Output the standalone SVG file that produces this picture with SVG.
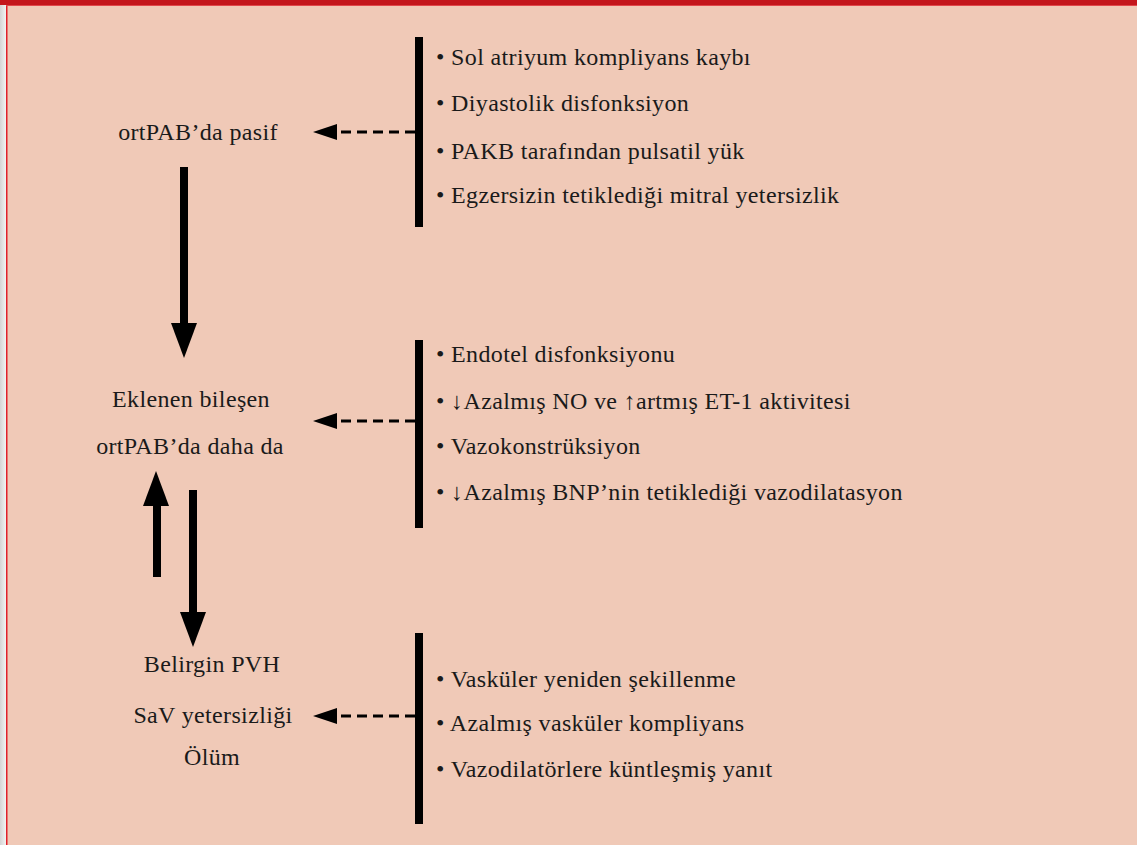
<svg xmlns="http://www.w3.org/2000/svg" width="1137" height="845" viewBox="0 0 1137 845">
<defs>
<linearGradient id="edge" x1="0" y1="0" x2="1" y2="0">
<stop offset="0" stop-color="#d4d4d4"/>
<stop offset="1" stop-color="#f2f2f2"/>
</linearGradient>
</defs>
<style>
.t{font-family:"Liberation Serif","DejaVu Serif",serif;font-size:24px;letter-spacing:0.35px;fill:#1a1a1a}
.c{text-anchor:middle}
.bar{fill:#000}
.dash{stroke:#000;stroke-width:3;stroke-dasharray:10 6;fill:none}
</style>
<rect x="0" y="0" width="1137" height="845" fill="#F0C9B7"/>
<rect x="0" y="0" width="6" height="845" fill="url(#edge)"/>
<rect x="6" y="0" width="1.5" height="845" fill="#E0202A"/>
<rect x="0" y="0" width="1137" height="5" fill="#C4161C"/>
<rect x="6" y="5" width="1131" height="1" fill="#E2474B"/>

<g id="connectors">
<path class="dash" d="M415 132 H338"/>
<polygon points="313,132 337,124 337,140" fill="#000"/>
<path class="dash" d="M415 421 H338"/>
<polygon points="313,421 337,413 337,429" fill="#000"/>
<path class="dash" d="M415 716 H338"/>
<polygon points="313,716 337,708 337,724" fill="#000"/>
<rect x="180" y="167" width="8" height="157" fill="#000"/>
<polygon points="171,323 197,323 184,358" fill="#000"/>
<rect x="153" y="505" width="8" height="72" fill="#000"/>
<polygon points="143,506 169,506 156,471" fill="#000"/>
<rect x="189" y="490" width="8" height="123" fill="#000"/>
<polygon points="180,612 206,612 193,647" fill="#000"/>
</g>

<g id="node-pasif">
<text class="t c" x="198" y="140">ortPAB’da pasif</text>
</g>
<g id="node-eklenen">
<text class="t c" x="191" y="407">Eklenen bileşen</text>
<text class="t c" x="190" y="454">ortPAB’da daha da</text>
</g>
<g id="node-olum">
<text class="t c" x="212" y="672">Belirgin PVH</text>
<text class="t c" x="213" y="723">SaV yetersizliği</text>
<text class="t c" x="212" y="765">Ölüm</text>
</g>

<g id="list-1">
<rect class="bar" x="415" y="37" width="8" height="190"/>
<text class="t" x="436" y="65">• Sol atriyum kompliyans kaybı</text>
<text class="t" x="436" y="111">• Diyastolik disfonksiyon</text>
<text class="t" x="436" y="159">• PAKB tarafından pulsatil yük</text>
<text class="t" x="436" y="203">• Egzersizin tetiklediği mitral yetersizlik</text>
</g>
<g id="list-2">
<rect class="bar" x="415" y="340" width="8" height="188"/>
<text class="t" x="436" y="362">• Endotel disfonksiyonu</text>
<text class="t" x="436" y="409">• ↓Azalmış NO ve ↑artmış ET-1 aktivitesi</text>
<text class="t" x="436" y="454">• Vazokonstrüksiyon</text>
<text class="t" x="436" y="500">• ↓Azalmış BNP’nin tetiklediği vazodilatasyon</text>
</g>
<g id="list-3">
<rect class="bar" x="415" y="633" width="8" height="191"/>
<text class="t" x="436" y="687">• Vasküler yeniden şekillenme</text>
<text class="t" x="436" y="731">• Azalmış vasküler kompliyans</text>
<text class="t" x="436" y="777">• Vazodilatörlere küntleşmiş yanıt</text>
</g>
</svg>
